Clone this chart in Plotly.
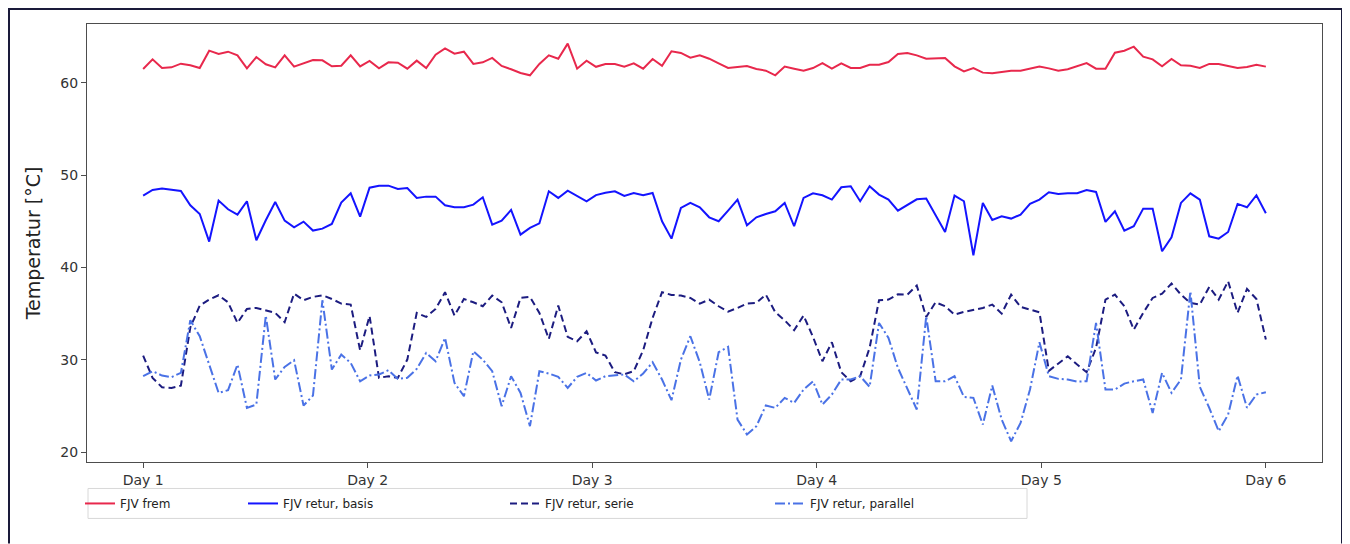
import plotly.graph_objects as go

day_labels = ["Day 1", "Day 2", "Day 3", "Day 4", "Day 5", "Day 6"]

fjv_frem = [61.52, 62.56, 61.62, 61.69, 62.09, 61.91, 61.62, 63.50, 63.14, 63.39, 62.99, 61.59, 62.81, 62.02, 61.69, 62.99, 61.77, 62.13, 62.49, 62.45, 61.80, 61.87, 62.99, 61.80,
            62.38, 61.59, 62.24, 62.20, 61.55, 62.42, 61.62, 63.07, 63.75, 63.17, 63.39, 62.06, 62.24, 62.71, 61.84, 61.48, 61.08, 60.83, 62.06, 62.99, 62.63, 64.26, 61.55, 62.42,
            61.75, 62.06, 62.06, 61.77, 62.13, 61.55, 62.60, 61.87, 63.43, 63.25, 62.74, 62.99, 62.63, 62.13, 61.62, 61.73, 61.84, 61.52, 61.33, 60.83, 61.77, 61.55, 61.33, 61.62,
            62.16, 61.55, 62.13, 61.62, 61.62, 61.98, 61.98, 62.27, 63.14, 63.25, 62.99, 62.63, 62.67, 62.71, 61.80, 61.26, 61.62, 61.12, 61.04, 61.19, 61.33, 61.33, 61.55, 61.77,
            61.58, 61.33, 61.48, 61.84, 62.16, 61.55, 61.55, 63.28, 63.50, 63.93, 62.85, 62.56, 61.80, 62.60, 61.91, 61.87, 61.62, 62.06, 62.06, 61.84, 61.62, 61.73, 61.98, 61.77]

fjv_retur_basis = [47.79, 48.40, 48.55, 48.40, 48.30, 46.74, 45.80, 42.81, 47.25, 46.31, 45.73, 47.18, 42.95, 45.12, 47.10, 45.08, 44.36, 44.97, 44.00, 44.21, 44.72, 47.03, 48.04, 45.51,
                   48.65, 48.87, 48.87, 48.51, 48.62, 47.54, 47.68, 47.68, 46.74, 46.53, 46.53, 46.81, 47.61, 44.65, 45.08, 46.24, 43.56, 44.29, 44.79, 48.26, 47.54, 48.33, 47.72, 47.18,
                   47.85, 48.11, 48.26, 47.75, 48.08, 47.83, 48.08, 45.01, 43.13, 46.45, 47.00, 46.53, 45.44, 45.01, 46.16, 47.36, 44.58, 45.44, 45.80, 46.09, 47.00, 44.47, 47.54, 48.04,
                   47.83, 47.36, 48.69, 48.80, 47.18, 48.80, 47.90, 47.36, 46.16, 46.74, 47.39, 47.47, 45.73, 43.85, 47.79, 47.18, 41.32, 47.00, 45.15, 45.55, 45.30, 45.73, 46.89, 47.36,
                   48.15, 47.97, 48.04, 48.04, 48.40, 48.19, 44.94, 46.09, 44.00, 44.47, 46.38, 46.38, 41.76, 43.28, 47.00, 48.04, 47.36, 43.38, 43.13, 43.85, 46.89, 46.53, 47.83, 45.88]

fjv_retur_serie = [30.45, 28.04, 27.02, 26.95, 27.20, 33.50, 35.87, 36.52, 36.99, 36.23, 33.99, 35.51, 35.62, 35.33, 35.08, 34.07, 37.17, 36.45, 36.81, 36.99, 36.59, 36.09, 35.98, 31.03,
                   34.75, 28.04, 28.22, 28.04, 30.02, 35.08, 34.64, 35.51, 37.32, 34.79, 36.59, 36.23, 35.80, 36.96, 36.23, 33.45, 36.70, 36.81, 35.08, 32.26, 35.87, 32.48, 32.01, 33.09,
                   30.80, 30.45, 28.65, 28.43, 28.76, 31.03, 34.54, 37.32, 37.03, 36.96, 36.70, 36.09, 36.52, 35.80, 35.22, 35.62, 36.09, 36.16, 37.06, 35.15, 34.28, 33.20, 34.79, 32.48,
                   29.84, 31.90, 28.65, 27.67, 28.22, 31.29, 36.45, 36.52, 37.10, 37.06, 38.04, 34.64, 36.23, 35.80, 34.90, 35.19, 35.44, 35.62, 35.98, 35.00, 37.06, 35.73, 35.44, 35.15,
                   28.80, 29.59, 30.38, 29.48, 28.65, 31.29, 36.52, 37.06, 35.80, 33.27, 35.08, 36.70, 37.17, 38.26, 37.06, 36.16, 35.98, 37.90, 36.52, 38.51, 35.08, 37.68, 36.59, 32.19]

fjv_retur_parallel = [28.22, 28.76, 28.29, 28.11, 28.58, 34.28, 32.55, 29.48, 26.41, 26.70, 29.48, 24.79, 25.15, 34.79, 27.86, 29.23, 29.95, 25.04, 26.12, 36.45, 28.94, 30.56, 29.66, 27.67,
                      28.30, 28.40, 28.87, 27.93, 28.04, 29.01, 30.74, 29.84, 32.37, 27.49, 26.05, 30.92, 30.02, 28.76, 24.97, 28.22, 26.41, 22.80, 28.76, 28.51, 28.14, 26.95, 28.14, 28.58,
                      27.75, 28.22, 28.29, 28.40, 27.67, 28.51, 29.73, 27.86, 25.62, 30.02, 32.55, 29.73, 25.69, 30.82, 31.39, 23.52, 21.90, 22.80, 25.04, 24.79, 25.87, 25.33, 26.77, 27.67,
                      25.15, 26.23, 27.86, 27.86, 28.22, 27.06, 33.99, 32.37, 29.12, 26.77, 24.61, 34.72, 27.67, 27.67, 28.22, 25.98, 25.87, 22.98, 27.20, 23.52, 21.17, 23.16, 26.77, 31.90,
                      28.22, 27.93, 27.86, 27.64, 27.67, 33.99, 26.77, 26.77, 27.42, 27.67, 27.86, 24.24, 28.58, 26.41, 27.86, 37.43, 27.06, 24.79, 22.26, 24.06, 28.29, 24.79, 26.23, 26.48]

n = len(fjv_frem)
x_days = [1 + i * 5 / (n - 1) for i in range(n)]

series = [
    ("FJV frem", fjv_frem, "#e8284c", "solid"),
    ("FJV retur, basis", fjv_retur_basis, "#1414ff", "solid"),
    ("FJV retur, serie", fjv_retur_serie, "#1c1c80", "7px,4px"),
    ("FJV retur, parallel", fjv_retur_parallel, "#4a72e6", "10px,3px,2px,3px"),
]

# page body has an 8px margin: work in figure coordinates = screen - 8
W, H = 1342, 536
L, T = 79, 16
pw, ph = 1235, 438.5
R = W - L - pw
B = H - T - ph

def px(fx):
    return (fx - L) / pw

def py(fy):
    return (T + ph - fy) / ph

legend_names = ["legend", "legend2", "legend3", "legend4"]
text_starts = [112, 275, 537, 802]

fig = go.Figure()
for (name, vals, color, dash), lg in zip(series, legend_names):
    fig.add_trace(go.Scatter(x=x_days, y=vals, mode="lines", name=name, legend=lg,
                             line=dict(color=color, width=2, dash=dash)))

legends = {}
for lg, ts in zip(legend_names, text_starts):
    legends[lg] = dict(orientation="h", x=px(ts - 40), y=py(496), xanchor="left",
                       yanchor="middle", borderwidth=0, bgcolor="rgba(0,0,0,0)",
                       itemwidth=30,
                       font=dict(family="DejaVu Sans", size=12, color="#222222"))

fig.update_layout(
    width=W, height=H,
    margin=dict(l=L, r=R, t=T, b=B, pad=0),
    paper_bgcolor="white", plot_bgcolor="white",
    font=dict(family="DejaVu Sans", size=14, color="#333333"),
    showlegend=True,
    xaxis=dict(range=[0.75, 6.25], tickvals=[1, 2, 3, 4, 5, 6], ticktext=day_labels,
               showgrid=False, zeroline=False, showline=True, mirror=True,
               linecolor="#4d4d4d", linewidth=1, ticks="outside", ticklen=5,
               tickcolor="#4d4d4d", tickfont=dict(size=14, color="#333333")),
    yaxis=dict(range=[18.92, 66.39], tickvals=[20, 30, 40, 50, 60],
               showgrid=False, zeroline=False, showline=True, mirror=True,
               linecolor="#4d4d4d", linewidth=1, ticks="outside", ticklen=5,
               tickcolor="#4d4d4d", tickfont=dict(size=14, color="#333333"),
               title=dict(text="Temperatur [°C]", font=dict(size=19, color="#222222"),
                          standoff=14)),
    shapes=[
        # shared legend frame
        dict(type="rect", xref="paper", yref="paper",
             x0=px(80), x1=px(1019), y0=py(511), y1=py(481),
             line=dict(color="#d8d8d8", width=1), fillcolor="rgba(0,0,0,0)"),
        # outer picture frame (left, top, right)
        dict(type="path", xref="paper", yref="paper",
             path=f"M {px(1)} {py(H)} L {px(1)} {py(1)} L {px(1334)} {py(1)} L {px(1334)} {py(H)}",
             line=dict(color="#1a1a3a", width=2)),
    ],
    **legends,
)

fig.write_html("out.html")
